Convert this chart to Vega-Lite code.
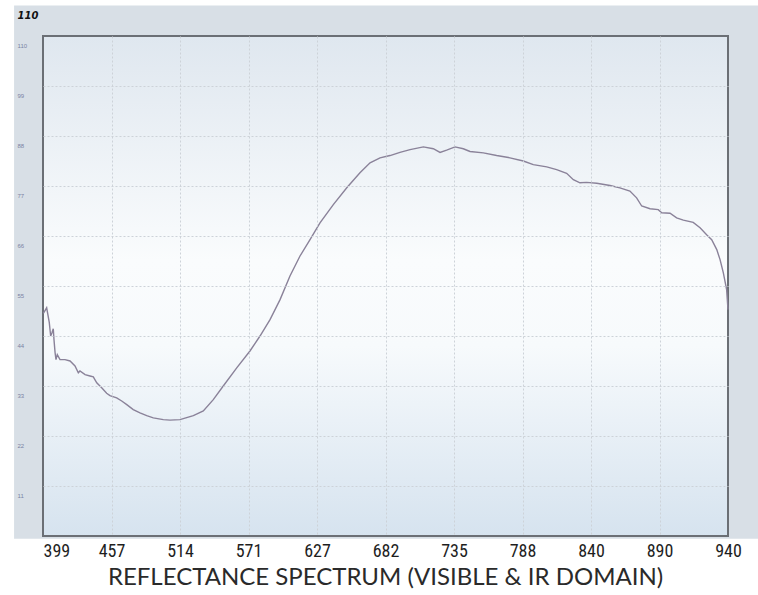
{
  "$schema": "https://vega.github.io/schema/vega-lite/v6.json",
  "width": 685,
  "height": 500,
  "autosize": {"type": "none"},
  "padding": {"left": 43, "top": 36, "right": 30, "bottom": 59},
  "background": "white",
  "config": {"view": {"stroke": null}},
  "title": {"text": "REFLECTANCE SPECTRUM (VISIBLE & IR DOMAIN)", "orient": "bottom", "anchor": "middle", "font": "Lato", "fontSize": 24, "fontWeight": "normal", "color": "#2a2a2a", "offset": 6},
  "datasets": {
    "frame": [{"part": "frame"}],
    "spectrum": [
      {"wl": 399.3, "r": 49.0},
      {"wl": 402.1, "r": 50.2},
      {"wl": 404.3, "r": 47.0},
      {"wl": 405.5, "r": 44.0},
      {"wl": 406.6, "r": 44.7},
      {"wl": 407.7, "r": 45.6},
      {"wl": 408.3, "r": 43.2},
      {"wl": 409.2, "r": 40.4},
      {"wl": 410.0, "r": 38.8},
      {"wl": 411.1, "r": 39.9},
      {"wl": 413.4, "r": 38.8},
      {"wl": 417.6, "r": 38.8},
      {"wl": 421.9, "r": 38.5},
      {"wl": 426.1, "r": 37.4},
      {"wl": 428.9, "r": 35.9},
      {"wl": 430.3, "r": 36.3},
      {"wl": 434.6, "r": 35.5},
      {"wl": 438.8, "r": 35.2},
      {"wl": 441.6, "r": 35.0},
      {"wl": 444.5, "r": 33.7},
      {"wl": 448.7, "r": 32.6},
      {"wl": 452.9, "r": 31.4},
      {"wl": 455.7, "r": 30.9},
      {"wl": 461.3, "r": 30.4},
      {"wl": 465.5, "r": 29.7},
      {"wl": 469.7, "r": 28.9},
      {"wl": 475.1, "r": 27.8},
      {"wl": 480.7, "r": 27.1},
      {"wl": 486.3, "r": 26.5},
      {"wl": 491.8, "r": 26.0},
      {"wl": 500.1, "r": 25.6},
      {"wl": 505.7, "r": 25.5},
      {"wl": 514.0, "r": 25.6},
      {"wl": 525.1, "r": 26.5},
      {"wl": 533.4, "r": 27.5},
      {"wl": 541.7, "r": 30.0},
      {"wl": 550.0, "r": 33.0},
      {"wl": 561.2, "r": 37.0},
      {"wl": 572.2, "r": 40.7},
      {"wl": 580.4, "r": 44.0},
      {"wl": 588.6, "r": 47.6},
      {"wl": 596.8, "r": 52.0},
      {"wl": 604.9, "r": 57.2},
      {"wl": 613.1, "r": 61.6},
      {"wl": 621.3, "r": 65.2},
      {"wl": 629.4, "r": 68.9},
      {"wl": 640.1, "r": 72.9},
      {"wl": 650.9, "r": 76.6},
      {"wl": 661.5, "r": 79.9},
      {"wl": 669.6, "r": 82.1},
      {"wl": 677.6, "r": 83.2},
      {"wl": 685.5, "r": 83.7},
      {"wl": 693.2, "r": 84.4},
      {"wl": 701.0, "r": 85.0},
      {"wl": 711.3, "r": 85.6},
      {"wl": 719.0, "r": 85.2},
      {"wl": 724.2, "r": 84.4},
      {"wl": 729.3, "r": 84.9},
      {"wl": 735.8, "r": 85.6},
      {"wl": 742.2, "r": 85.2},
      {"wl": 747.4, "r": 84.6},
      {"wl": 757.7, "r": 84.3},
      {"wl": 768.0, "r": 83.7},
      {"wl": 778.3, "r": 83.2},
      {"wl": 788.6, "r": 82.5},
      {"wl": 796.2, "r": 81.7},
      {"wl": 806.4, "r": 81.2},
      {"wl": 813.9, "r": 80.6},
      {"wl": 821.5, "r": 79.8},
      {"wl": 826.6, "r": 78.4},
      {"wl": 831.6, "r": 77.7},
      {"wl": 836.7, "r": 77.8},
      {"wl": 844.2, "r": 77.6},
      {"wl": 853.9, "r": 77.1},
      {"wl": 861.1, "r": 76.6},
      {"wl": 868.4, "r": 75.9},
      {"wl": 873.3, "r": 74.4},
      {"wl": 877.0, "r": 72.6},
      {"wl": 883.1, "r": 72.0},
      {"wl": 889.1, "r": 71.8},
      {"wl": 891.6, "r": 71.1},
      {"wl": 897.7, "r": 71.0},
      {"wl": 902.5, "r": 70.0},
      {"wl": 907.4, "r": 69.5},
      {"wl": 914.6, "r": 69.0},
      {"wl": 919.6, "r": 67.8},
      {"wl": 924.4, "r": 66.3},
      {"wl": 928.1, "r": 65.2},
      {"wl": 931.8, "r": 63.0},
      {"wl": 934.2, "r": 60.8},
      {"wl": 936.6, "r": 57.9},
      {"wl": 939.0, "r": 54.2},
      {"wl": 940.0, "r": 49.8}
    ]
  },
  "layer": [
    {
      "data": {"name": "frame"},
      "mark": {"type": "rect", "fill": "#d8dfe6", "clip": false},
      "encoding": {
        "x": {"datum": 374.5, "type": "quantitative"},
        "x2": {"datum": 962},
        "y": {"datum": -0.6, "type": "quantitative"},
        "y2": {"datum": 116.7}
      }
    },
    {
      "data": {"name": "frame"},
      "mark": {
        "type": "rect",
        "stroke": "#6b6f75",
        "strokeWidth": 2,
        "clip": false,
        "fill": {
          "gradient": "linear",
          "x1": 0, "y1": 0, "x2": 0, "y2": 1,
          "stops": [
            {"offset": 0, "color": "#dfe7ef"},
            {"offset": 0.45, "color": "#fafcfd"},
            {"offset": 0.62, "color": "#f7fafc"},
            {"offset": 1, "color": "#d6e3ef"}
          ]
        }
      },
      "encoding": {
        "x": {"datum": 399, "type": "quantitative"},
        "x2": {"datum": 940},
        "y": {"datum": 0, "type": "quantitative"},
        "y2": {"datum": 110}
      }
    },
    {
      "data": {"name": "spectrum"},
      "mark": {"type": "line", "color": "#8a8299", "strokeWidth": 1.4, "interpolate": "linear"},
      "encoding": {
        "x": {
          "field": "wl",
          "type": "quantitative",
          "scale": {
            "type": "linear",
            "domain": [399, 457, 514, 571, 627, 682, 735, 788, 840, 890, 940],
            "range": [0, 68.5, 137, 205.5, 274, 342.5, 411, 479.5, 548, 616.5, 685],
            "nice": false,
            "zero": false
          },
          "axis": {
            "values": [399, 457, 514, 571, 627, 682, 735, 788, 840, 890, 940],
            "title": null,
            "zindex": 1,
            "domain": false,
            "ticks": false,
            "tickSize": 0,
            "grid": true,
            "gridColor": "#cdd2d8",
            "gridDash": [2, 2],
            "gridWidth": 1,
            "gridOpacity": {"condition": {"test": "datum.value == 399 || datum.value == 940", "value": 0}, "value": 1},
            "labelFont": "Liberation Sans Narrow, Roboto Condensed, Liberation Sans",
            "labelFontSize": 18,
            "labelColor": "#1e1e1e",
            "labelPadding": 6,
            "labelAlign": {"condition": {"test": "datum.value == 399", "value": "left"}, "value": "center"}
          }
        },
        "y": {
          "field": "r",
          "type": "quantitative",
          "scale": {"domain": [0, 110], "nice": false, "zero": false},
          "axis": {
            "values": [11, 22, 33, 44, 55, 66, 77, 88, 99, 110],
            "zindex": 1,
            "domain": false,
            "ticks": false,
            "tickSize": 0,
            "grid": true,
            "gridColor": "#cdd2d8",
            "gridDash": [2, 2],
            "gridWidth": 1,
            "gridOpacity": {"condition": {"test": "datum.value == 110", "value": 0}, "value": 1},
            "labelFont": "Liberation Sans",
            "labelFontSize": 6,
            "labelColor": "#7a83a3",
            "labelAlign": "left",
            "labelBaseline": "middle",
            "labelPadding": 26,
            "labelOffset": 9,
            "title": "110",
            "titleAngle": 0,
            "titleFont": "DejaVu Sans",
            "titleFontSize": 10,
            "titleFontWeight": "bold",
            "titleFontStyle": "italic",
            "titleColor": "#111111",
            "titleAlign": "left",
            "titleBaseline": "middle",
            "titleX": -26,
            "titleY": -21
          }
        }
      }
    }
  ]
}
